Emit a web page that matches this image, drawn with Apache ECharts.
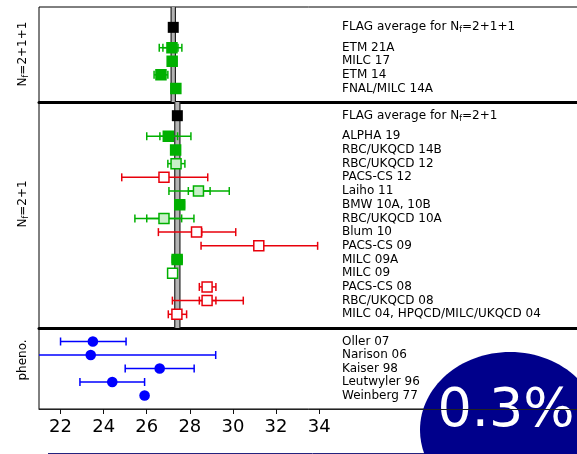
<!DOCTYPE html>
<html>
<head>
<meta charset="utf-8">
<script src="https://cdn.jsdelivr.net/npm/echarts@6/dist/echarts.min.js"></script>
<style>
html, body { margin: 0; padding: 0; background: #fff; }
#chart { width: 577px; height: 454px; }
</style>
</head>
<body>
<div id="chart"></div>
<script>
// FLAG averages: N_f = 2+1+1 and N_f = 2+1
const avgValues = [27.23, 27.42];
const avgErrors = [0.10, 0.12];

// N_f = 2+1+1 results
const names4 = ['ETM 21A', 'MILC 17', 'ETM 14', 'FNAL/MILC 14A'];
const values4 = [27.17, 27.18, 26.66, 27.35];
const totLo4 = [26.58, null, 26.34, null];
const totHi4 = [27.63, null, 26.98, null];
const statLo4 = [26.75, null, null, null];
const statHi4 = [27.45, null, null, null];
const kinds4 = ['fill', 'fill', 'fill', 'fill'];

// N_f = 2+1 results
const names3 = ['ALPHA 19', 'RBC/UKQCD 14B', 'RBC/UKQCD 12', 'PACS-CS 12', 'Laiho 11',
  'BMW 10A, 10B', 'RBC/UKQCD 10A', 'Blum 10', 'PACS-CS 09', 'MILC 09A', 'MILC 09',
  'PACS-CS 08', 'RBC/UKQCD 08', 'MILC 04, HPQCD/MILC/UKQCD 04'];
const values3 = [27.0, 27.34, 27.36, 26.8, 28.4, 27.53, 26.8, 28.31, 31.2, 27.41, 27.2, 28.8, 28.8, 27.4];
const totLo3 = [26.0, 27.13, 26.98, 24.84, 27.03, 27.31, 25.45, 26.54, 28.52, 27.18, null, 28.44, 27.19, 27.0];
const totHi3 = [28.05, 27.55, 27.77, 28.83, 29.83, 27.75, 28.19, 30.13, 33.93, 27.64, null, 29.21, 30.48, 27.85];
const statLo3 = [26.61, null, null, null, 27.93, null, 26.0, 28.11, null, null, null, null, 28.44, null];
const statHi3 = [27.43, null, null, null, 28.94, null, 27.62, 28.55, null, null, null, null, 29.21, null];
const kinds3 = ['fill', 'fill', 'light', 'red', 'light', 'fill', 'light', 'red', 'red', 'fill', 'open', 'red', 'red', 'red'];

// phenomenology
const namesPh = ['Oller 07', 'Narison 06', 'Kaiser 98', 'Leutwyler 96', 'Weinberg 77'];
const valuesPh = [23.5, 23.4, 26.6, 24.4, 25.9];
const totLoPh = [22.0, 17.6, 25.0, 22.9, null];
const totHiPh = [25.04, 29.2, 28.2, 25.9, null];
const statLoPh = [null, null, null, null, null];
const statHiPh = [null, null, null, null, null];
const kindsPh = ['blue', 'blue', 'blue', 'blue', 'blue'];

const xTicks = [22, 24, 26, 28, 30, 32, 34];

const labelX = 35.06;
const font = 'DejaVu Sans';
const kindStyle = {
  fill: { stroke: '#00b000', fill: '#00b000' },
  light: { stroke: '#00b000', fill: '#c8f0c8' },
  open: { stroke: '#00b000', fill: '#ffffff' },
  red: { stroke: '#e8000b', fill: '#ffffff' },
  blue: { stroke: '#0000ff', fill: '#0000ff', circle: true }
};

const panels = [
  { names: names4, values: values4, totLo: totLo4, totHi: totHi4, statLo: statLo4, statHi: statHi4,
    kinds: kinds4, firstRow: 1.5, yMin: -1.5, yMax: 5.5, avg: 0, avgLabel: '2+1+1' },
  { names: names3, values: values3, totLo: totLo3, totHi: totHi3, statLo: statLo3, statHi: statHi3,
    kinds: kinds3, firstRow: 1.5, yMin: -1, yMax: 15.5, avg: 1, avgLabel: '2+1' },
  { names: namesPh, values: valuesPh, totLo: totLoPh, totHi: totHiPh, statLo: statLoPh, statHi: statHiPh,
    kinds: kindsPh, firstRow: 0, yMin: -1, yMax: 5, avg: null }
];

// panel boxes; the frame runs past the right edge of the picture
const gridBoxes = [
  { top: 7, height: 95 },
  { top: 102, height: 226 },
  { top: 328, height: 81 }
];

function pointRenderer(p) {
  return function (params, api) {
    const i = params.dataIndex;
    const row = api.value(1);
    const st = kindStyle[p.kinds[i]];
    const c = api.coord([api.value(0), row]);
    const kids = [];
    function bar(lo, hi) {
      const a = api.coord([lo, row]), b = api.coord([hi, row]);
      kids.push({ type: 'line', shape: { x1: a[0], y1: a[1], x2: b[0], y2: b[1] },
        style: { stroke: st.stroke, lineWidth: 1.5 } });
      [a, b].forEach(function (q) {
        kids.push({ type: 'line', shape: { x1: q[0], y1: q[1] - 4, x2: q[0], y2: q[1] + 4 },
          style: { stroke: st.stroke, lineWidth: 1.5 } });
      });
    }
    if (p.totLo[i] != null) bar(p.totLo[i], p.totHi[i]);
    if (p.statLo[i] != null) bar(p.statLo[i], p.statHi[i]);
    if (st.circle) {
      kids.push({ type: 'circle', shape: { cx: c[0], cy: c[1], r: 5.3 }, style: { fill: st.fill } });
    } else {
      kids.push({ type: 'rect', shape: { x: c[0] - 5, y: c[1] - 5, width: 10, height: 10 },
        style: { fill: st.fill, stroke: st.stroke, lineWidth: 1.5 } });
    }
    return { type: 'group', children: kids };
  };
}

function labelRenderer(p) {
  return function (params, api) {
    const c = api.coord([labelX, api.value(1)]);
    return { type: 'text', style: { text: p.names[params.dataIndex], x: c[0], y: c[1],
      fill: '#000', fontSize: 12, fontFamily: font, align: 'left', verticalAlign: 'middle' } };
  };
}

function avgRenderer(p) {
  return function (params, api) {
    const v = avgValues[p.avg], e = avgErrors[p.avg];
    const a = api.coord([v - e, p.yMin]), b = api.coord([v + e, p.yMax]);
    const c = api.coord([v, 0]);
    const t = api.coord([labelX, 0]);
    const top = Math.min(a[1], b[1]), h = Math.abs(b[1] - a[1]);
    return { type: 'group', children: [
      { type: 'rect', shape: { x: a[0], y: top, width: b[0] - a[0], height: h }, style: { fill: '#b4b4b4' } },
      { type: 'line', shape: { x1: a[0], y1: top, x2: a[0], y2: top + h }, style: { stroke: '#222', lineWidth: 1.2 } },
      { type: 'line', shape: { x1: b[0], y1: top, x2: b[0], y2: top + h }, style: { stroke: '#222', lineWidth: 1.2 } },
      { type: 'rect', shape: { x: c[0] - 5.5, y: c[1] - 5.5, width: 11, height: 11 }, style: { fill: '#000' } },
      { type: 'text', style: { text: '{n|FLAG average for N}{s|f}{n|=' + p.avgLabel + '}', x: t[0], y: t[1],
        align: 'left', verticalAlign: 'middle',
        rich: { n: { fontSize: 12, fontFamily: font, fill: '#000', verticalAlign: 'middle', lineHeight: 14 },
                s: { fontSize: 8, fontFamily: font, fill: '#000', verticalAlign: 'bottom', lineHeight: 14 } } } }
    ] };
  };
}

const grid = [], xAxis = [], yAxis = [], series = [];
panels.forEach(function (p, g) {
  grid.push({ left: 39, width: 549.5, top: gridBoxes[g].top, height: gridBoxes[g].height,
    outerBoundsMode: 'none', containLabel: false,
    show: true, borderColor: '#000', borderWidth: 1 });
  const last = g === panels.length - 1;
  xAxis.push({ type: 'value', gridIndex: g, min: 21, max: 46.5, position: 'bottom',
    axisLine: { show: true, onZero: false, lineStyle: { color: last ? '#222' : '#000', width: last ? 1 : 3 } },
    axisTick: { show: last, customValues: xTicks, length: 5, lineStyle: { color: '#111', width: 1 } },
    axisLabel: { show: last, customValues: xTicks, fontSize: 18, fontFamily: font, color: '#000', margin: 9 },
    splitLine: { show: false } });
  yAxis.push({ type: 'value', gridIndex: g, min: p.yMin, max: p.yMax, inverse: true,
    axisLine: { show: false, onZero: false }, axisTick: { show: false }, axisLabel: { show: false }, splitLine: { show: false } });
  const rows = p.values.map(function (v, i) { return [v, p.firstRow + i]; });
  if (p.avg != null) {
    series.push({ type: 'custom', xAxisIndex: g, yAxisIndex: g, data: [[avgValues[p.avg], 0]],
      renderItem: avgRenderer(p), silent: true });
  }
  series.push({ type: 'custom', xAxisIndex: g, yAxisIndex: g, data: rows, clip: true,
    renderItem: pointRenderer(p), silent: true });
  series.push({ type: 'custom', xAxisIndex: g, yAxisIndex: g, data: rows,
    renderItem: labelRenderer(p), silent: true });
});

const sideRich = { n: { fontSize: 12, fontFamily: font, fill: '#000', verticalAlign: 'middle', lineHeight: 14 },
  s: { fontSize: 8, fontFamily: font, fill: '#000', verticalAlign: 'bottom', lineHeight: 14 } };

const chart = echarts.init(document.getElementById('chart'), null, { renderer: 'canvas' });
chart.setOption({
  animation: false,
  backgroundColor: '#fff',
  grid: grid,
  xAxis: xAxis,
  yAxis: yAxis,
  series: series,
  graphic: [
    { type: 'text', x: 23, y: 54, rotation: Math.PI / 2,
      style: { text: '{n|N}{s|f}{n|=2+1+1}', rich: sideRich, align: 'center', verticalAlign: 'middle' } },
    { type: 'text', x: 23, y: 204, rotation: Math.PI / 2,
      style: { text: '{n|N}{s|f}{n|=2+1}', rich: sideRich, align: 'center', verticalAlign: 'middle' } },
    { type: 'text', x: 23, y: 360, rotation: Math.PI / 2,
      style: { text: 'pheno.', fontSize: 12, fontFamily: font, fill: '#000', align: 'center', verticalAlign: 'middle' } },
    { type: 'line', shape: { x1: 48, y1: 453.5, x2: 577, y2: 453.5 }, style: { stroke: '#23237f', lineWidth: 1 } },
    { type: 'ellipse', shape: { cx: 510, cy: 430, rx: 90, ry: 78 }, style: { fill: '#00008b' } },
    { type: 'text', x: 506, y: 412,
      style: { text: '0.3%', fontSize: 54, fontFamily: font, fill: '#fff', align: 'center', verticalAlign: 'middle' } }
  ]
});
</script>
</body>
</html>
